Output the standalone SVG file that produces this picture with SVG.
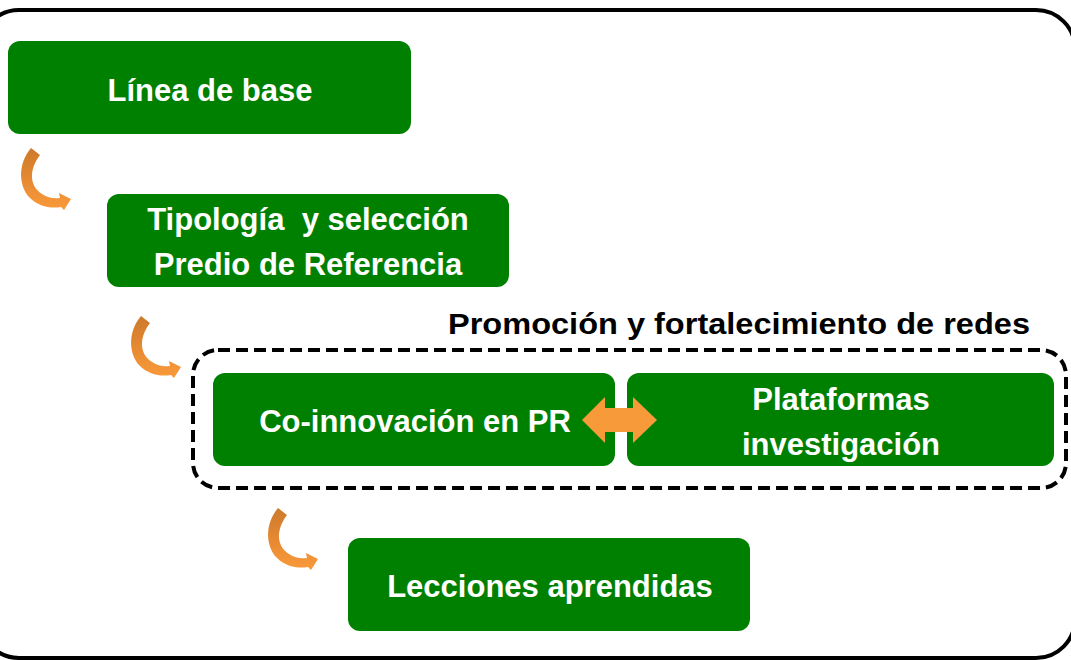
<svg xmlns="http://www.w3.org/2000/svg" width="1071" height="660" viewBox="0 0 1071 660">
<defs>
<style>
.box{fill:#008000;}
.lbl{font-family:"Liberation Sans",Arial,sans-serif;font-weight:bold;font-size:31px;fill:#ffffff;text-anchor:middle;}
.ttl{font-family:"Liberation Sans",Arial,sans-serif;font-weight:bold;font-size:30px;fill:#000000;text-anchor:middle;}
.curv{fill:url(#og);}
</style>
<linearGradient id="og" x1="0" y1="0" x2="0" y2="1">
<stop offset="0" stop-color="#CC7A2C"/>
<stop offset="0.55" stop-color="#E88A32"/>
<stop offset="1" stop-color="#F99B3B"/>
</linearGradient>
<path id="carrow" d="M31,148 L40,155 C30,168 28,185 42,194 C48,198 54,199 60,198 L59,193 L71,199 L64,210 L61,207 C50,209 38,206 30,198 C18,186 18,163 31,148 Z"/>
</defs>
<rect x="-20" y="10" width="1095" height="648" rx="39" ry="39" fill="none" stroke="#000" stroke-width="4"/>
<g id="group-redes">
<rect x="193" y="350" width="873" height="138" rx="25" ry="25" fill="none" stroke="#000" stroke-width="4" stroke-dasharray="12 6"/>
<text class="ttl" x="739" y="334" textLength="582" lengthAdjust="spacingAndGlyphs">Promoción y fortalecimiento de redes</text>
</g>
<g id="n1"><rect class="box" x="8" y="41" width="403" height="93" rx="12"/><text class="lbl" x="210" y="101">Línea de base</text></g>
<g id="n2"><rect class="box" x="107" y="194" width="402" height="93" rx="12"/><text class="lbl" x="308" y="230" xml:space="preserve">Tipología  y selección</text><text class="lbl" x="308" y="275">Predio de Referencia</text></g>
<g id="n3"><rect class="box" x="213" y="373" width="402" height="93" rx="12"/><text class="lbl" x="415" y="432">Co-innovación en PR</text></g>
<g id="n4"><rect class="box" x="627" y="373" width="427" height="93" rx="12"/><text class="lbl" x="841" y="410">Plataformas</text><text class="lbl" x="841" y="455">investigación</text></g>
<g id="n5"><rect class="box" x="348" y="538" width="402" height="93" rx="12"/><text class="lbl" x="550" y="597">Lecciones aprendidas</text></g>
<g id="connectors">
<use href="#carrow" class="curv"/>
<use href="#carrow" class="curv" transform="translate(110,168)"/>
<use href="#carrow" class="curv" transform="translate(247,360)"/>
<path d="M582,420 L605,397 L605,408 L633,408 L633,397 L657,420 L633,443 L633,432 L605,432 L605,443 Z" fill="#F79A3A"/>
</g>
</svg>
